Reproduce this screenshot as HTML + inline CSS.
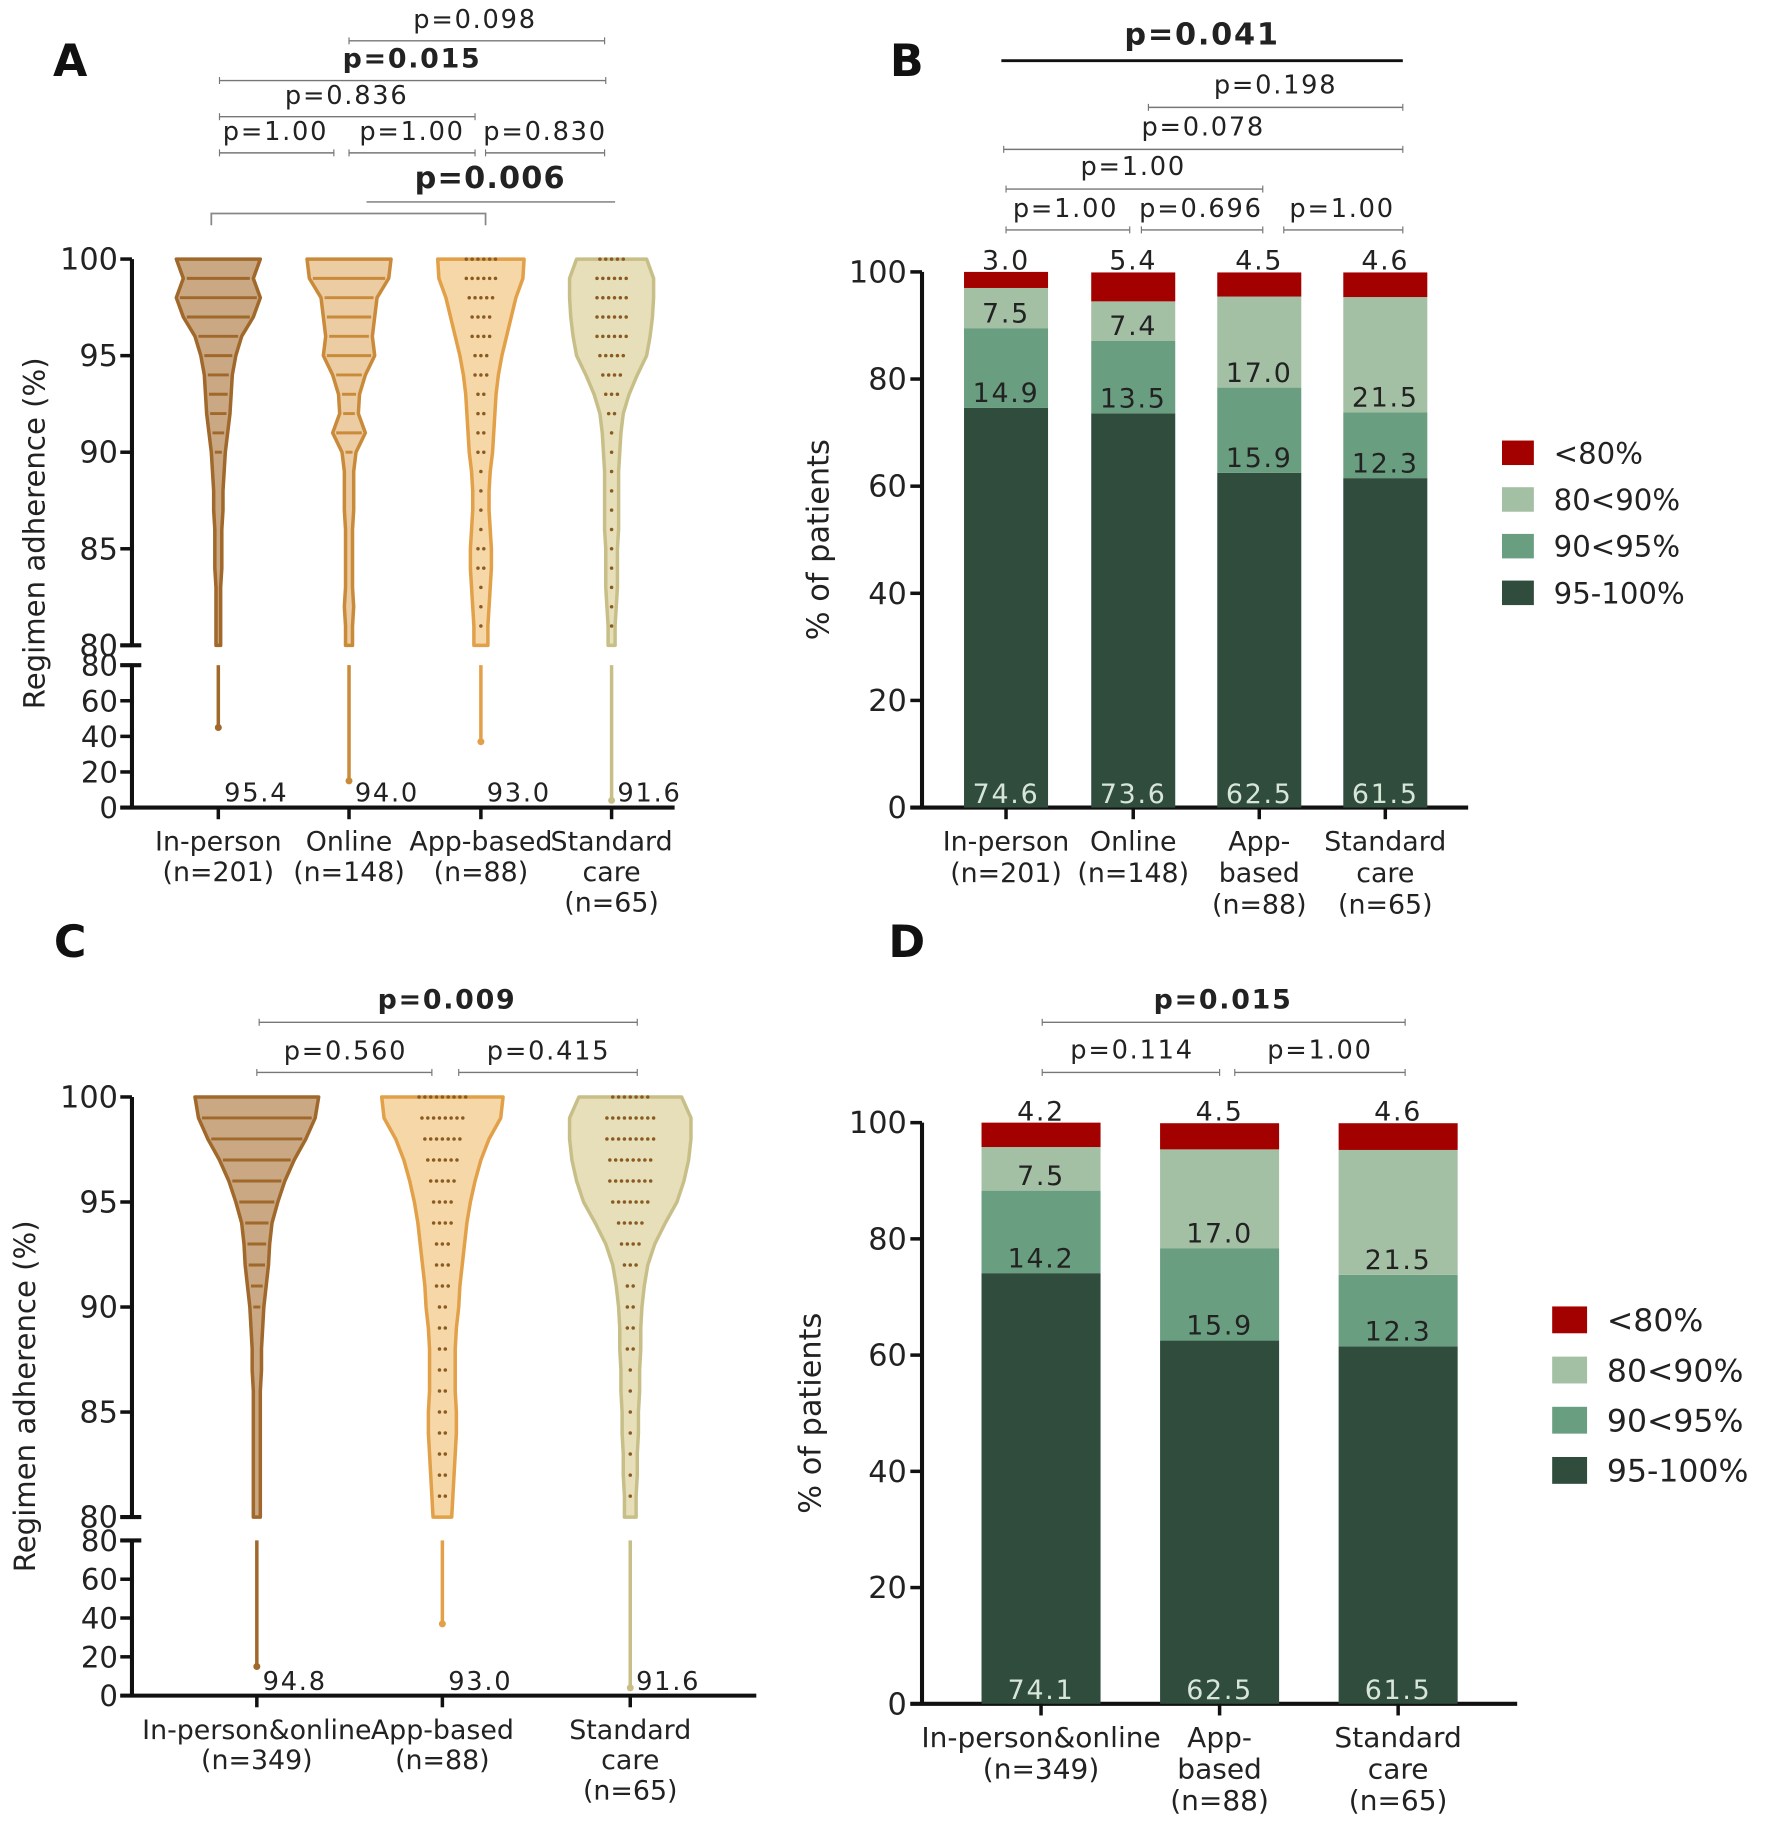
<!DOCTYPE html>
<html><head><meta charset="utf-8">
<style>
html,body{margin:0;padding:0;background:#fff;}
svg{display:block;}
text{font-family:"DejaVu Sans","Liberation Sans",sans-serif;}
</style></head>
<body>
<svg id="fig" width="1774" height="1838" viewBox="0 0 1520 1575" xmlns="http://www.w3.org/2000/svg"></svg>
<script>
// ---------- DATA ----------
const levels = [100,99,98,97,96,95,94,93,92,91,90,89,88,87,86,85,84,83,82,81,80];
const violinA_names = ["In-person","Online","App-based","Standard care"];
const violinA_inperson = [36,30,36,30,20,15,12,11,10,8,6,5,4,4,3,3,3,2,2,2,2];
const violinA_online   = [36,34,24,22,20,22,14,9,8,14,6,4,4,4,3,3,3,3,4,3,3];
const violinA_app      = [37,36,30,26,22,18,15,13,12,11,10,8,7,7,8,9,9,8,7,6,6];
const violinA_std      = [30,36,36,35,33,30,22,15,10,8,7,6,6,6,6,5,5,5,4,3,3];
const violinA_min = [45,15,37,4];
const violinA_median = ["95.4","94.0","93.0","91.6"];
const violinC_inperson = [53,50,42,32,24,18,13,11,10,8,6,5,4,4,3,3,3,3,3,3,3];
const violinC_app      = [52,50,40,33,28,24,21,19,17,15,14,12,11,11,11,12,12,11,10,9,8];
const violinC_std      = [44,52,52,50,46,40,30,21,15,12,10,9,9,8,8,7,7,6,6,5,5];
const violinC_min = [15,37,4];
const violinC_median = ["94.8","93.0","91.6"];

const segNames = ["95-100%","90<95%","80<90%","<80%"];
const B_cats = [["In-person","(n=201)"],["Online","(n=148)"],["App-","based","(n=88)"],["Standard","care","(n=65)"]];
const B_s1 = [74.6,73.6,62.5,61.5];
const B_s2 = [14.9,13.5,15.9,12.3];
const B_s3 = [7.5,7.4,17.0,21.5];
const B_s4 = [3.0,5.4,4.5,4.6];
const D_cats = [["In-person&online","(n=349)"],["App-","based","(n=88)"],["Standard","care","(n=65)"]];
const D_s1 = [74.1,62.5,61.5];
const D_s2 = [14.2,15.9,12.3];
const D_s3 = [7.5,17.0,21.5];
const D_s4 = [4.2,4.5,4.6];
const yTicksBar = [0,20,40,60,80,100];
const yTicksUpper = [80,85,90,95,100];
const yTicksLower = [0,20,40,60,80];

// ---------- HELPERS ----------
const NS="http://www.w3.org/2000/svg";
const svg=document.getElementById('fig');
function mk(tag,attrs,parent){const e=document.createElementNS(NS,tag);for(const k in attrs)e.setAttribute(k,attrs[k]);(parent||svg).appendChild(e);return e;}
function txt(x,y,s,size,anchor,weight,fill,parent){const t=mk('text',{x:x,y:y,'font-size':size,'text-anchor':anchor||'middle','font-weight':weight||'normal',fill:fill||'#222'},parent);t.textContent=s;return t;}
const SEGCOL=["#2f4c3d","#6a9e80","#a3bfa4","#a30000"];

function pval(x1,x2,y,label,tx,ty,bold,size,thick){
  const g=mk('g',{});
  
  
  mk('line',{x1:x1,x2:x2,y1:y,y2:y,stroke:thick?'#111':'#777','stroke-width':thick?2.5:1.2},g);
  if(!thick){mk('line',{x1:x1,x2:x1,y1:y-3,y2:y+3,stroke:'#777','stroke-width':1},g);mk('line',{x1:x2,x2:x2,y1:y-3,y2:y+3,stroke:'#777','stroke-width':1},g);}
  const t=txt(tx,ty,label,size||22,'middle',bold?'bold':'normal','#222',g);
  t.setAttribute('letter-spacing','1.5');
}
function label(x,y,s){const t=mk('text',{x:x,y:y,'font-size':38,'font-weight':'bold','text-anchor':'middle',fill:'#111'});t.textContent=s;}

// ---------- VIOLIN PANEL ----------
function violinPanel(cfg){
  const g=mk('g',{});
  
  
  const ax=cfg.ax;
  const yUp=v=>cfg.y100+(100-v)*(cfg.y80-cfg.y100)/20;
  const yLo=v=>cfg.y0-(v)*(cfg.y0-cfg.yl80)/80;
  mk('line',{x1:ax,x2:ax,y1:cfg.y100,y2:cfg.y80,stroke:'#111','stroke-width':3.5},g);
  mk('line',{x1:ax,x2:ax,y1:cfg.yl80,y2:cfg.y0,stroke:'#111','stroke-width':3.5},g);
  mk('line',{x1:ax-10,x2:ax+8,y1:cfg.y80,y2:cfg.y80,stroke:'#111','stroke-width':3.5},g);
  mk('line',{x1:ax-10,x2:ax+8,y1:cfg.yl80,y2:cfg.yl80,stroke:'#111','stroke-width':3.5},g);
  mk('line',{x1:ax-10,x2:cfg.xend,y1:cfg.y0,y2:cfg.y0,stroke:'#111','stroke-width':3.5},g);
  yTicksUpper.forEach(v=>{mk('line',{x1:ax-10,x2:ax,y1:yUp(v),y2:yUp(v),stroke:'#111','stroke-width':3},g);txt(ax-12,yUp(v)+9,String(v),26,'end','normal','#222',g);});
  yTicksLower.forEach(v=>{mk('line',{x1:ax-10,x2:ax,y1:yLo(v),y2:yLo(v),stroke:'#111','stroke-width':3},g);txt(ax-12,yLo(v)+9,String(v),25,'end','normal','#222',g);});
  const yt=txt(0,0,'Regimen adherence (%)',25,'middle','normal','#222',g);
  yt.setAttribute('transform',`translate(${cfg.ytx},${(cfg.y100+cfg.y0)/2}) rotate(-90)`);
  
  cfg.groups.forEach((gr,i)=>{
    const cx=cfg.cats[i];
    const gg=mk('g',{},g);
    
    
    let L=[],R=[];
    levels.forEach((lv,j)=>{const w=gr.w[j]*cfg.scale;R.push(`${cx+w},${yUp(lv)}`);L.unshift(`${cx-w},${yUp(lv)}`);});
    mk('polygon',{points:R.concat(L).join(' '),fill:gr.fill,stroke:gr.stroke,'stroke-width':3,'stroke-linejoin':'round'},gg);
    levels.forEach((lv,j)=>{
      const w=gr.w[j]*cfg.scale;
      if(gr.lines){if(lv<100&&lv>80&&w>5)mk('line',{x1:cx-w+3,x2:cx+w-3,y1:yUp(lv),y2:yUp(lv),stroke:gr.stroke,'stroke-width':2.5},gg);}
      else if(lv<=100&&lv>80){const n=Math.max(1,Math.round(w/6));for(let k=0;k<n;k++){mk('circle',{cx:cx-(n-1)*2.5+k*5,cy:yUp(lv),r:1.5,fill:'#8a5a20'},gg);}}
    });
    mk('line',{x1:cx,x2:cx,y1:yLo(80),y2:yLo(gr.min),stroke:gr.stroke,'stroke-width':3},gg);
    mk('circle',{cx:cx,cy:yLo(gr.min),r:3,fill:gr.stroke},gg);
    mk('line',{x1:cx,x2:cx,y1:cfg.y0,y2:cfg.y0+10,stroke:'#111','stroke-width':3},g);
    txt(cx+5,cfg.y0-5,gr.med,22,'start','normal','#222',gg).setAttribute('letter-spacing','1.5');
    gr.cat.forEach((s,k)=>txt(cx,cfg.y0+37+k*26,s,23,'middle','normal','#222',g));
  });
}

// ---------- BAR PANEL ----------
function barPanel(cfg){
  const g=mk('g',{});
  
  
  const ax=cfg.ax;
  const yS=v=>cfg.y0-v*(cfg.y0-cfg.y100)/100;
  mk('line',{x1:ax,x2:ax,y1:cfg.y100,y2:cfg.y0,stroke:'#111','stroke-width':3.5},g);
  mk('line',{x1:ax-10,x2:cfg.xend,y1:cfg.y0,y2:cfg.y0,stroke:'#111','stroke-width':3.5},g);
  yTicksBar.forEach(v=>{mk('line',{x1:ax-10,x2:ax,y1:yS(v),y2:yS(v),stroke:'#111','stroke-width':3},g);txt(ax-13,yS(v)+9,String(v),26,'end','normal','#222',g);});
  const yt=txt(0,0,'% of patients',26,'middle','normal','#222',g);
  yt.setAttribute('transform',`translate(${cfg.ytx},${(cfg.y100+cfg.y0)/2}) rotate(-90)`);
  
  const series=[cfg.s1,cfg.s2,cfg.s3,cfg.s4];
  cfg.cats.forEach((c,i)=>{
    const cx=cfg.cx[i];let base=0;
    series.forEach((s,k)=>{
      const v=s[i];const top=Math.min(100,base+v);
      const r=mk('rect',{x:cx-cfg.bw/2,y:yS(top),width:cfg.bw,height:yS(base)-yS(top),fill:SEGCOL[k]},g);
      
      
      let ty;
      if(k===0)ty=cfg.y0-4; else if(k===3)ty=yS(100)-2; else ty=yS(base)-5;
      txt(cx,ty,v.toFixed(1),23,'middle','normal',k===0?'#d8e6da':'#222',g).setAttribute('letter-spacing','1.5');
      base=top;
    });
    mk('line',{x1:cx,x2:cx,y1:cfg.y0,y2:cfg.y0+10,stroke:'#111','stroke-width':3},g);
    c.forEach((s,k)=>txt(cx,cfg.y0+37+k*27,s,cfg.cfs,'middle','normal','#222',g));
  });
  const lg=mk('g',{},g);
  
  
  for(let k=3;k>=0;k--){
    const row=3-k;const y=cfg.ly+row*cfg.lstep;
    const e=mk('g',{},lg);
    
    
    mk('rect',{x:cfg.lx,y:y-cfg.lsq/2,width:cfg.lsq*1.3,height:cfg.lsq,fill:SEGCOL[k]},e);
    txt(cfg.lx+cfg.lsq*1.3+17,y+cfg.lfs*0.36,segNames[k],cfg.lfs,'start','normal','#222',e);
  }
}

// ---------- PANEL A ----------
label(60,65,'A');
pval(299,518,35,'p=0.098',407,24);
pval(188,519,69,'p=0.015',353,58,true,23);
pval(188,407,100,'p=0.836',297,89);
pval(188,286,131,'p=1.00',236,120);
pval(299,407,131,'p=1.00',353,120);
pval(416,518,131,'p=0.830',467,120);
(function(){const g=mk('g',{});
mk('line',{x1:314,x2:527,y1:173,y2:173,stroke:'#777','stroke-width':1.2},g);
mk('polyline',{points:'181,193 181,183 416,183 416,193',fill:'none',stroke:'#888','stroke-width':1.5},g);
const t=txt(420,161,'p=0.006',26,'middle','bold','#222',g);t.setAttribute('letter-spacing','1');})();
violinPanel({name:'panel-a-violin',ax:113,xend:578,y100:222,y80:553,yl80:570,y0:692,ytx:38,scale:1,cats:[187,299,412,524],
 groups:[
  {key:'in-person',w:violinA_inperson,fill:'#c9a883',stroke:'#a0682a',lines:true,min:violinA_min[0],med:violinA_median[0],cat:['In-person','(n=201)']},
  {key:'online',w:violinA_online,fill:'#ebcca3',stroke:'#c98a3a',lines:true,min:violinA_min[1],med:violinA_median[1],cat:['Online','(n=148)']},
  {key:'app-based',w:violinA_app,fill:'#f5d7a8',stroke:'#e2a048',lines:false,min:violinA_min[2],med:violinA_median[2],cat:['App-based','(n=88)']},
  {key:'standard-care',w:violinA_std,fill:'#e6dfba',stroke:'#c8bf88',lines:false,min:violinA_min[3],med:violinA_median[3],cat:['Standard','care','(n=65)']}]});

// ---------- PANEL B ----------
label(777,65,'B');
pval(858,1202,52,'p=0.041',1030,38,true,26,true);
pval(984,1202,92,'p=0.198',1093,80);
pval(860,1202,128,'p=0.078',1031,116);
pval(862,1082,162,'p=1.00',971,150);
pval(862,968,197,'p=1.00',913,186);
pval(978,1082,197,'p=0.696',1029,186);
pval(1100,1202,197,'p=1.00',1150,186);
barPanel({name:'panel-b-stacked-bar',ax:790,xend:1258,y100:233,y0:692,ytx:710,bw:72,cx:[862,971,1079,1187],cats:B_cats,cfs:23,
 s1:B_s1,s2:B_s2,s3:B_s3,s4:B_s4,lx:1287,ly:388,lstep:40,lsq:21,lfs:25});

// ---------- PANEL C ----------
label(60,820,'C');
pval(222,546,876,'p=0.009',383,864,true,23);
pval(220,370,919,'p=0.560',296,908);
pval(393,546,919,'p=0.415',470,908);
violinPanel({name:'panel-c-violin',ax:113,xend:648,y100:940,y80:1300,yl80:1320,y0:1453,ytx:30,scale:1,cats:[220,379,540],
 groups:[
  {key:'in-person-online',w:violinC_inperson,fill:'#c9a883',stroke:'#a0682a',lines:true,min:violinC_min[0],med:violinC_median[0],cat:['In-person&online','(n=349)']},
  {key:'app-based',w:violinC_app,fill:'#f5d7a8',stroke:'#e2a048',lines:false,min:violinC_min[1],med:violinC_median[1],cat:['App-based','(n=88)']},
  {key:'standard-care',w:violinC_std,fill:'#e6dfba',stroke:'#c8bf88',lines:false,min:violinC_min[2],med:violinC_median[2],cat:['Standard','care','(n=65)']}]});

// ---------- PANEL D ----------
label(777,820,'D');
pval(893,1204,876,'p=0.015',1048,864,true,23);
pval(893,1045,919,'p=0.114',970,907);
pval(1058,1204,919,'p=1.00',1131,907);
barPanel({name:'panel-d-stacked-bar',ax:790,xend:1300,y100:962,y0:1460,ytx:703,bw:102,cx:[892,1045,1198],cats:D_cats,cfs:24,
 s1:D_s1,s2:D_s2,s3:D_s3,s4:D_s4,lx:1330,ly:1131,lstep:43,lsq:23,lfs:27});
</script>
</body></html>
